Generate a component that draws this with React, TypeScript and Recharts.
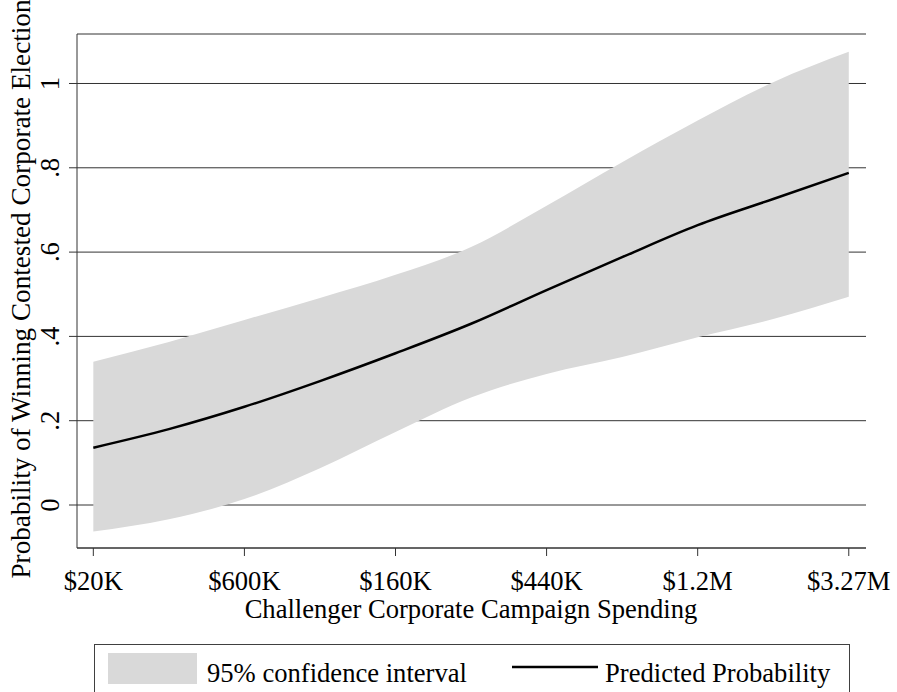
import {
  ComposedChart,
  Area,
  Line,
  XAxis,
  YAxis,
  CartesianGrid,
  Legend,
} from "recharts";

// spending levels (evenly spaced positions on the x axis)
const tickLabels = ["$20K", "$600K", "$160K", "$440K", "$1.2M", "$3.27M"];
const xTicks = [0, 1, 2, 3, 4, 5];
const yTicks = [0, 0.2, 0.4, 0.6, 0.8, 1];

// curve samples
const positions = [0, 0.5, 1, 1.5, 2, 2.5, 3, 3.5, 4, 4.5, 5];
const predicted = [0.136, 0.18, 0.233, 0.294, 0.36, 0.43, 0.51, 0.588, 0.664, 0.726, 0.788];
const upperCI = [0.34, 0.387, 0.439, 0.491, 0.546, 0.612, 0.71, 0.813, 0.912, 1.003, 1.075];
const lowerCI = [-0.063, -0.034, 0.014, 0.087, 0.173, 0.255, 0.311, 0.351, 0.398, 0.441, 0.494];

const legendLabels = ["95% confidence interval", "Predicted Probability"];

const FONT = "'Liberation Serif', 'Times New Roman', serif";
const FS = 26.6;
const BAND = "#d9d9d9";
const INK = "#333";

const data = positions.map((x, i) => ({
  x,
  band: [lowerCI[i], upperCI[i]],
  pred: predicted[i],
}));

const fmtY = (v: number) => (v === 0 ? "0" : v === 1 ? "1" : String(v).replace(/^0/, ""));

function YTick({ y, payload }: any) {
  return (
    <text
      x={59}
      y={y}
      transform={`rotate(-90, 59, ${y})`}
      textAnchor="middle"
      fontFamily={FONT}
      fontSize={FS}
      fill="#000"
    >
      {fmtY(payload.value)}
    </text>
  );
}

function XTick({ x, payload }: any) {
  return (
    <text x={x} y={590} textAnchor="middle" fontFamily={FONT} fontSize={FS} fill="#000">
      {tickLabels[payload.value]}
    </text>
  );
}

function LegendBox() {
  return (
    <svg width={756} height={60} style={{ display: "block" }}>
      <rect x={0.5} y={0.5} width={755} height={60} fill="#fff" stroke="#404040" />
      <rect x={14} y={9} width={89} height={31} fill={BAND} />
      <text x={113} y={38} fontFamily={FONT} fontSize={FS} fill="#000">
        {legendLabels[0]}
      </text>
      <line x1={418} x2={504} y1={23} y2={23} stroke="#000" strokeWidth={2.5} />
      <text x={511} y={38} fontFamily={FONT} fontSize={FS} fill="#000">
        {legendLabels[1]}
      </text>
    </svg>
  );
}

const xDomain: [number, number] = [-0.108, 5.114];
const yDomain: [number, number] = [-0.102, 1.1174];

export default function App() {
  return (
    <div
      style={{
        position: "absolute",
        left: 0,
        top: 0,
        width: 897,
        height: 692,
        overflow: "hidden",
        background: "#fff",
      }}
    >
      <ComposedChart
        width={897}
        height={692}
        data={data}
        margin={{ top: 34, right: 31, left: 7, bottom: 84 }}
      >
        <CartesianGrid horizontal vertical={false} stroke={INK} strokeWidth={1} />
        <XAxis
          dataKey="x"
          type="number"
          domain={xDomain}
          ticks={xTicks}
          height={60}
          axisLine={{ stroke: INK }}
          tickLine={{ stroke: INK }}
          tickSize={8}
          tick={<XTick />}
          interval={0}
          allowDataOverflow
          label={{
            content: () => (
              <text x={471} y={618} textAnchor="middle" fontFamily={FONT} fontSize={FS} fill="#000">
                Challenger Corporate Campaign Spending
              </text>
            ),
          }}
        />
        <XAxis
          xAxisId="top"
          orientation="top"
          type="number"
          domain={xDomain}
          height={0}
          tick={false}
          tickLine={false}
          axisLine={{ stroke: INK }}
          allowDataOverflow
        />
        <YAxis
          type="number"
          domain={yDomain}
          ticks={yTicks}
          width={70}
          axisLine={{ stroke: INK }}
          tickLine={{ stroke: INK }}
          tickSize={8}
          tick={<YTick />}
          interval={0}
          allowDataOverflow
          label={{
            content: () => (
              <text
                x={30}
                y={289}
                transform="rotate(-90, 30, 289)"
                textAnchor="middle"
                fontFamily={FONT}
                fontSize={27.2}
                fill="#000"
              >
                Probability of Winning Contested Corporate Election
              </text>
            ),
          }}
        />
        <YAxis
          yAxisId="right"
          orientation="right"
          type="number"
          domain={yDomain}
          width={0}
          tick={false}
          tickLine={false}
          axisLine={{ stroke: INK }}
          allowDataOverflow
        />
        <Area
          type="monotone"
          dataKey="band"
          fill={BAND}
          fillOpacity={1}
          stroke="none"
          isAnimationActive={false}
        />
        <Line
          type="monotone"
          dataKey="pred"
          stroke="#000"
          strokeWidth={2.5}
          dot={false}
          activeDot={false}
          isAnimationActive={false}
        />
        <Legend
          layout="horizontal"
          verticalAlign="middle"
          align="center"
          content={() => <LegendBox />}
          wrapperStyle={{ left: 94, top: 644, width: 756, height: 60 }}
        />
      </ComposedChart>
    </div>
  );
}
